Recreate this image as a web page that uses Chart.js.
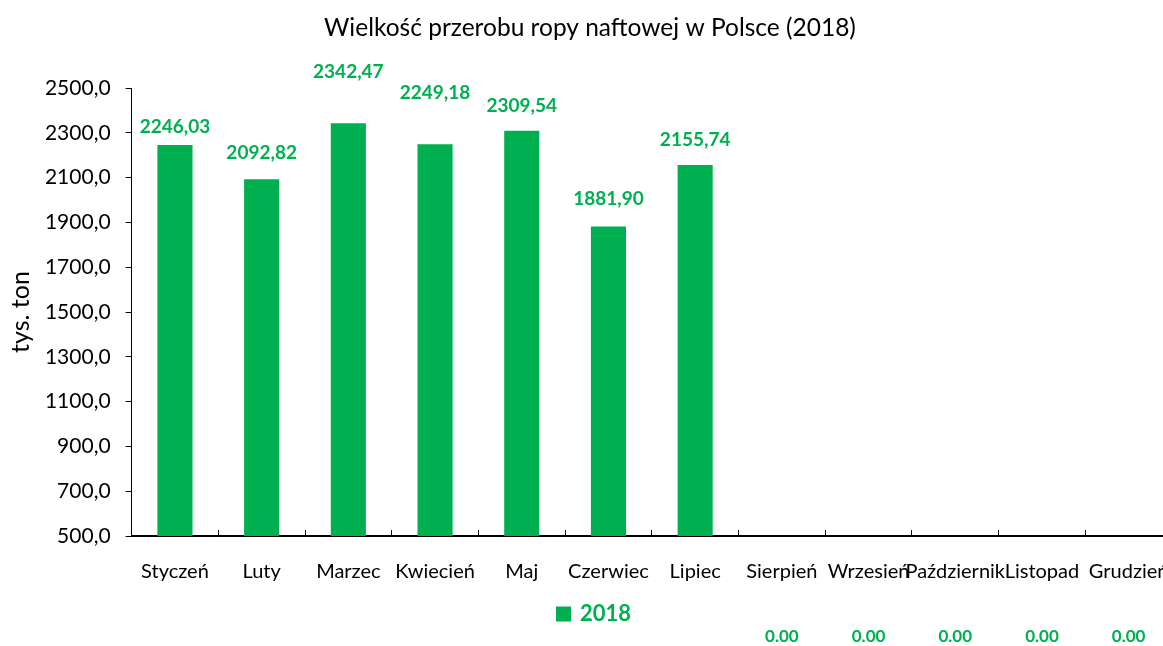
<!DOCTYPE html>
<html>
<head>
<meta charset="utf-8">
<script src="https://cdn.jsdelivr.net/npm/chart.js@4"></script>
<style>
html,body{margin:0;padding:0;background:#fff;overflow:hidden;}
#wrap{width:1163px;height:646px;overflow:hidden;position:relative;}
canvas{display:block;}
</style>
</head>
<body>
<div id="wrap"><canvas id="c" width="1180" height="646"></canvas></div>
<script>
// ---- data ----
const months = ["Styczeń","Luty","Marzec","Kwiecień","Maj","Czerwiec","Lipiec","Sierpień","Wrzesień","Październik","Listopad","Grudzień"];
const values2018 = [2246.03, 2092.82, 2342.47, 2249.18, 2309.54, 1881.90, 2155.74, 0, 0, 0, 0, 0];
const seriesName = "2018";
const yTicks = [500, 700, 900, 1100, 1300, 1500, 1700, 1900, 2100, 2300, 2500];
const chartTitle = "Wielkość przerobu ropy naftowej w Polsce (2018)";
const yTitle = "tys. ton";

const GREEN = "#00B050";
const FONT = "Lato, 'Open Sans', sans-serif";

const labelPlugin = {
  id: 'labelsAndExtras',
  afterDatasetsDraw(chart, args, opts) {
    const ctx = chart.ctx;
    const meta = chart.getDatasetMeta(0);
    const ds = chart.data.datasets[0];
    ctx.save();
    ctx.fillStyle = GREEN;
    ctx.textAlign = 'center';
    ctx.textBaseline = 'middle';
    meta.data.forEach((bar, i) => {
      const v = ds.data[i];
      if (v > 0) {
        ctx.font = "bold 19px " + FONT;
        ctx.fillText(v.toFixed(2).replace('.', ','), bar.x, bar.y - opts.lift[i]);
      } else {
        ctx.font = "bold 17px " + FONT;
        ctx.fillText(v.toFixed(2), bar.x, opts.zeroY);
      }
    });
    ctx.restore();
  },
  afterDraw(chart, args, opts) {
    const ctx = chart.ctx;
    ctx.save();
    // title
    ctx.fillStyle = '#000';
    ctx.font = "24.5px " + FONT;
    ctx.textAlign = 'center';
    ctx.textBaseline = 'middle';
    ctx.fillText(chartTitle, opts.titleX, opts.titleY);
    // legend
    ctx.fillStyle = GREEN;
    ctx.fillRect(opts.legendX, opts.legendY - 7.5, 15, 15);
    ctx.font = "bold 22px " + FONT;
    ctx.textAlign = 'left';
    ctx.fillText(seriesName, opts.legendX + 24, opts.legendY);
    ctx.restore();
  }
};

new Chart(document.getElementById('c'), {
  type: 'bar',
  data: {
    labels: months,
    datasets: [{
      label: seriesName,
      data: values2018,
      backgroundColor: GREEN,
      borderWidth: 0,
      categoryPercentage: 1.0,
      barPercentage: 0.405
    }]
  },
  options: {
    responsive: false,
    animation: false,
    events: [],
    layout: { padding: { top: 88, right: 8, bottom: 0, left: 0 } },
    plugins: {
      legend: { display: false },
      title: { display: false },
      tooltip: { enabled: false },
      labelsAndExtras: {
        lift: [18, 26, 51, 51, 25, 28, 25, 0, 0, 0, 0, 0],
        zeroY: 637,
        titleX: 590, titleY: 28,
        legendX: 556, legendY: 614
      }
    },
    scales: {
      x: {
        offset: true,
        grid: { display: true, drawOnChartArea: false, offset: true, color: '#000', tickLength: -6, lineWidth: 1 },
        border: { display: true, color: '#000', width: 2 },
        ticks: { color: '#000', font: { family: FONT, size: 20 }, padding: 29.5, autoSkip: false, maxRotation: 0, minRotation: 0 },
        afterFit(s) { s.height = 110; s.paddingLeft = 0; s.paddingRight = 0; }
      },
      y: {
        min: 500, max: 2500,
        afterBuildTicks(s) { s.ticks = yTicks.map(v => ({ value: v })); },
        grid: { display: true, drawOnChartArea: false, color: '#000', tickLength: 6, lineWidth: 1 },
        border: { display: true, color: '#000', width: 1 },
        ticks: { color: '#000', font: { family: FONT, size: 21 }, padding: 15,
          callback: v => v.toFixed(1).replace('.', ',') },
        title: { display: true, text: yTitle, color: '#000', font: { family: FONT, size: 25 }, padding: { top: 5.5, bottom: 0 } },
        afterFit(s) { s.width = 131.6; }
      }
    }
  },
  plugins: [labelPlugin]
});
</script>
</body>
</html>
